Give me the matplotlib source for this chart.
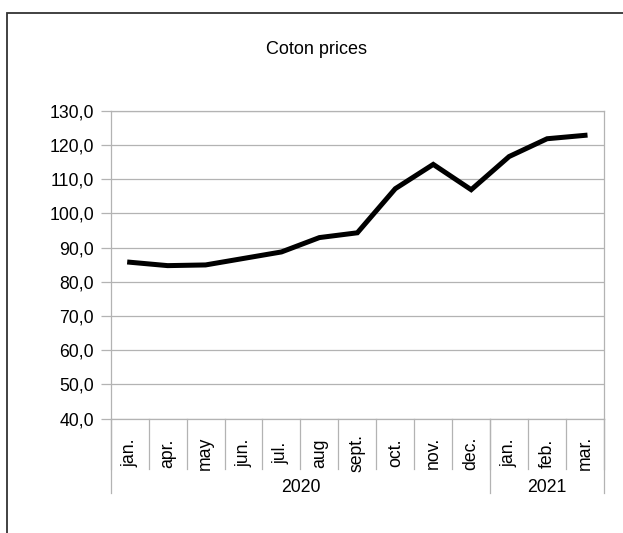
import matplotlib.pyplot as plt
from matplotlib.patches import Rectangle
import numpy as np

plt.rcParams['font.family'] = ['Liberation Sans', 'DejaVu Sans']

months = ["jan.", "apr.", "may", "jun.", "jul.", "aug", "sept.", "oct.",
          "nov.", "dec.", "jan.", "feb.", "mar."]
prices = [85.7, 84.7, 84.9, 86.8, 88.7, 92.9, 94.3, 107.2, 114.3, 106.9,
          116.6, 121.8, 122.8]
years = ["2020", "2021"]
year_counts = [10, 3]
yticks = [40, 50, 60, 70, 80, 90, 100, 110, 120, 130]

W, H = 623, 533
fig = plt.figure(figsize=(W / 100, H / 100), dpi=100)
ax = fig.add_axes([110.7 / W, 1 - 418.5 / H, (604 - 110.7) / W, (418.5 - 110.7) / H])

# outer chart frame (cut off at right and bottom)
fig.patches.append(Rectangle((7 / W, -0.1), 1.2, 1 - 13 / H + 0.1,
                             transform=fig.transFigure, fill=False,
                             edgecolor='#333333', lw=1.3))

fig.text(316 / W, 1 - 50 / H, "Coton prices", ha='center', va='center',
         fontsize=13, color='black')

x = np.arange(len(months))
ax.plot(x, prices, color='black', lw=3.6, solid_joinstyle='miter', zorder=3)

ax.set_xlim(-0.5, len(months) - 0.5)
ax.set_ylim(40, 130)
ax.set_yticks(yticks)
ax.set_yticklabels([f"{v:.1f}".replace('.', ',') for v in yticks])
ax.yaxis.grid(True, color='#b3b3b3', lw=0.9)
ax.set_axisbelow(True)
ax.tick_params(axis='y', length=7.5, width=0.9, color='#b3b3b3', pad=4.5,
               labelsize=12.7)
for s in ax.spines.values():
    s.set_color('#b3b3b3')
    s.set_linewidth(0.9)

ax.set_xticks([])
axh = 418.5 - 110.7
xt = ax.get_xaxis_transform()
# month separators
for b in np.arange(-0.5, len(months), 1.0):
    ax.plot([b, b], [0, -(469 - 418.5) / axh], color='#b3b3b3', lw=0.9,
            transform=xt, clip_on=False)
# month labels
for i, m in enumerate(months):
    ax.text(i, -(453 - 418.5) / axh, m, rotation=90, ha='center', va='center',
            fontsize=12.7, transform=xt)
# year groups
start = 0
bounds = [-0.5]
for yr, n in zip(years, year_counts):
    ax.text(start + (n - 1) / 2, -(488 - 418.5) / axh, yr, ha='center',
            va='center', fontsize=12.7, transform=xt)
    start += n
    bounds.append(start - 0.5)
for b in bounds:
    ax.plot([b, b], [0, -(493 - 418.5) / axh], color='#b3b3b3', lw=0.9,
            transform=xt, clip_on=False)

fig.savefig("out.png", dpi=100)
